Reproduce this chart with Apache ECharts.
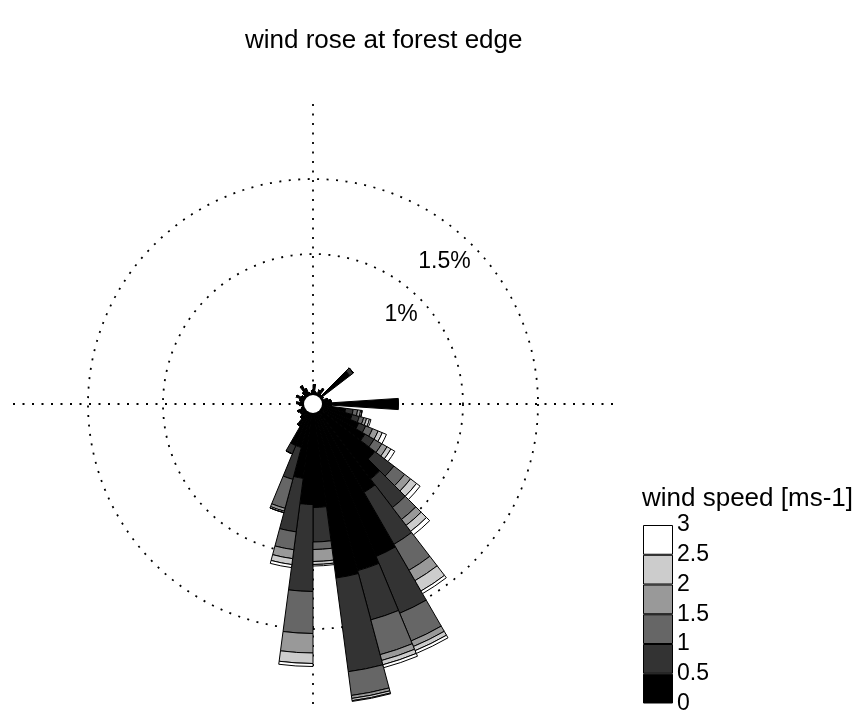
<!DOCTYPE html>
<html>
<head>
<meta charset="utf-8">
<script src="https://cdn.jsdelivr.net/npm/echarts/dist/echarts.min.js"></script>
<style>
  html, body { margin: 0; padding: 0; background: #fff; }
  #chart { width: 868px; height: 715px; }
</style>
</head>
<body>
<div id="chart"></div>
<script>
// direction bins (degrees, 7.5 deg wide, clockwise from north)
var dirs = [0, 7.5, 15, 22.5, 30, 37.5, 45, 52.5, 60, 67.5, 75, 82.5,
            90, 97.5, 105, 112.5, 120, 127.5, 135, 142.5, 150, 157.5, 165, 172.5,
            180, 187.5, 195, 202.5, 210, 217.5, 225, 232.5, 240, 247.5, 255, 262.5,
            270, 277.5, 285, 292.5, 300, 307.5, 315, 322.5, 330, 337.5, 345, 352.5];

// frequency (%) per speed class
var spd0 = [0.13, 0.08, 0.07, 0.10, 0.12, 0.08, 0.31, 0.08, 0.07, 0.10, 0.12, 0.12,
            0.12, 0.22, 0.27, 0.33, 0.40, 0.52, 0.63, 0.68, 1.10, 1.15, 1.17, 0.69,
            0.67, 0.50, 0.30, 0.30, 0.17, 0.12, 0.10, 0.10, 0.11, 0.08, 0.07, 0.09,
            0.11, 0.08, 0.09, 0.12, 0.09, 0.08, 0.10, 0.14, 0.11, 0.08, 0.07, 0.09];
var spd1 = [0, 0, 0, 0, 0, 0, 0.03, 0, 0, 0, 0, 0,
            0, 0.05, 0.05, 0.05, 0.07, 0.16, 0.24, 0.40, 0.41, 0.34, 0.63, 0.23,
            0.58, 0.36, 0.22, 0.06, 0, 0, 0, 0, 0, 0, 0, 0,
            0, 0, 0, 0, 0, 0, 0, 0, 0, 0, 0, 0];
var spd2 = [0, 0, 0, 0, 0, 0, 0, 0, 0, 0, 0, 0,
            0, 0.03, 0.03, 0.05, 0.06, 0.09, 0.10, 0.20, 0.20, 0.24, 0.16, 0.05,
            0.28, 0.12, 0.20, 0, 0, 0, 0, 0, 0, 0, 0, 0,
            0, 0, 0, 0, 0, 0, 0, 0, 0, 0, 0, 0];
var spd3 = [0, 0, 0, 0, 0, 0, 0, 0, 0, 0, 0, 0,
            0, 0.02, 0.02, 0.04, 0.04, 0.05, 0.05, 0.08, 0.04, 0.04, 0.02, 0.08,
            0.13, 0.06, 0.02, 0, 0, 0, 0, 0, 0, 0, 0, 0,
            0, 0, 0, 0, 0, 0, 0, 0, 0, 0, 0, 0];
var spd4 = [0, 0, 0, 0, 0, 0, 0, 0, 0, 0, 0, 0,
            0, 0.01, 0.02, 0.03, 0.03, 0.05, 0.05, 0.08, 0.03, 0.03, 0.015, 0.02,
            0.07, 0.04, 0.01, 0, 0, 0, 0, 0, 0, 0, 0, 0,
            0, 0, 0, 0, 0, 0, 0, 0, 0, 0, 0, 0];
var spd5 = [0, 0, 0, 0, 0, 0, 0, 0, 0, 0, 0, 0,
            0, 0, 0.01, 0.03, 0.03, 0.03, 0.03, 0.02, 0.02, 0.02, 0.01, 0.01,
            0.02, 0.02, 0, 0, 0, 0, 0, 0, 0, 0, 0, 0,
            0, 0, 0, 0, 0, 0, 0, 0, 0, 0, 0, 0];

// the east spike sits centred on 90 deg, half a bin off the others
var eastDir = 90;
var eastSpd0 = 0.57;

var speedEdges = [0, 0.5, 1, 1.5, 2, 2.5, 3];
var classColors = ['#000000', '#333333', '#666666', '#999999', '#cccccc', '#ffffff'];
var ringValues = [1, 1.5];

var classData = [spd0, spd1, spd2, spd3, spd4, spd5];
var font = 'Liberation Sans, Arial, sans-serif';
var dotted = [2, 7.5];
var ctr = [313, 404];

var series = [];
classData.forEach(function(d, k){
	series.push({
		name: speedEdges[k] + '-' + speedEdges[k + 1],
		type: 'bar',
		coordinateSystem: 'polar',
		polarIndex: 0,
		stack: 'rose',
		barCategoryGap: '0%',
		data: d,
		itemStyle: { color: classColors[k], borderColor: '#000', borderWidth: 1 }
	});
	// colour bar
	series.push({
		type: 'bar',
		xAxisIndex: 0,
		yAxisIndex: 0,
		stack: 'cbar',
		barWidth: '100%',
		data: [speedEdges[k + 1] - speedEdges[k]],
		itemStyle: { color: classColors[k], borderColor: '#000', borderWidth: 1 }
	});
});

var eastData = dirs.map(function(a){ return a === eastDir ? eastSpd0 : null; });
series.push({
	type: 'bar',
	coordinateSystem: 'polar',
	polarIndex: 2,
	barCategoryGap: '0%',
	data: eastData,
	itemStyle: { color: classColors[0], borderColor: '#000', borderWidth: 1 }
});

var chart = echarts.init(document.getElementById('chart'));
chart.setOption({
	animation: false,
	backgroundColor: '#fff',
	title: [
		{ text: 'wind rose at forest edge', left: 245, top: 28, padding: 0,
		  textStyle: { fontFamily: font, fontSize: 26, fontWeight: 'normal', color: '#000' } },
		{ text: 'wind speed [ms-1]', left: 642, top: 486, padding: 0,
		  textStyle: { fontFamily: font, fontSize: 26, fontWeight: 'normal', color: '#000' } }
	],
	polar: [
		{ center: ctr, radius: 300 },
		{ center: ctr, radius: 300 },
		{ center: ctr, radius: 300 }
	],
	angleAxis: [
		{ polarIndex: 0, type: 'category', data: dirs, startAngle: 90, clockwise: true,
		  axisLine: { show: false }, axisTick: { show: false, interval: 11 }, axisLabel: { show: false },
		  splitLine: { show: true, interval: 11, lineStyle: { color: '#000', type: dotted, width: 1.8 } } },
		{ polarIndex: 1, type: 'value', min: 0, max: 360, startAngle: 45, show: false },
		{ polarIndex: 2, type: 'category', data: dirs, startAngle: 93.75, clockwise: true, show: false }
	],
	radiusAxis: [
		{ polarIndex: 0, min: 0, max: 2, interval: 0.5,
		  axisLine: { show: false }, axisTick: { show: false }, axisLabel: { show: false },
		  splitLine: { show: true, lineStyle: {
			  color: ['rgba(0,0,0,0)', 'rgba(0,0,0,0)', '#000', '#000', 'rgba(0,0,0,0)'],
			  type: dotted, width: 1.8 } } },
		{ polarIndex: 1, min: 0, max: 2, interval: 0.5,
		  axisLine: { show: false }, axisTick: { show: false }, splitLine: { show: false },
		  axisLabel: { show: true, margin: 2, align: 'right', verticalAlign: 'top', padding: [7, 0, 0, 0],
			  fontFamily: font, fontSize: 23, color: '#000',
			  formatter: function(v){ return ringValues.indexOf(v) >= 0 ? v + '%' : ''; } } },
		{ polarIndex: 2, min: 0, max: 2, show: false }
	],
	grid: { left: 643, top: 525, width: 30, height: 183 },
	xAxis: { type: 'category', data: [''], show: false },
	yAxis: { type: 'value', position: 'right', min: 0, max: 3, interval: 0.5,
		axisLine: { show: false }, axisTick: { show: false }, splitLine: { show: false },
		axisLabel: { margin: 4, fontFamily: font, fontSize: 23, color: '#000' } },
	graphic: [
		{ type: 'circle', z: 100, shape: { cx: ctr[0], cy: ctr[1], r: 9 },
		  style: { fill: '#fff' } }
	],
	series: series
});
</script>
</body>
</html>
